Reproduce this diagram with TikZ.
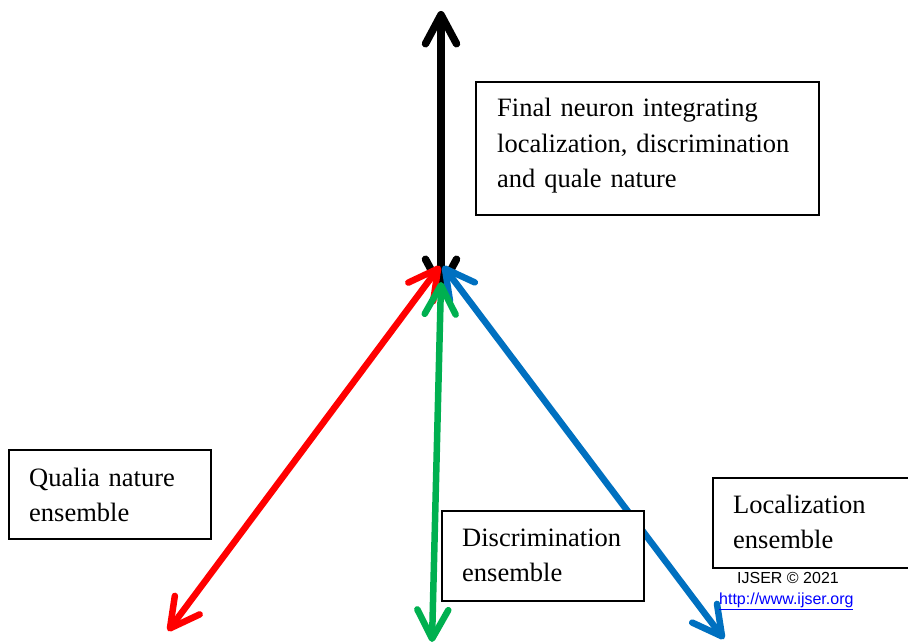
\documentclass[tikz,border=0pt]{standalone}
\usepackage{fontspec}
\setmainfont{Liberation Serif}
\newfontfamily\arialfont{Liberation Sans}
\usetikzlibrary{arrows.meta}
\definecolor{aRed}{RGB}{255,0,0}
\definecolor{aGreen}{RGB}{0,176,80}
\definecolor{aBlue}{RGB}{0,112,192}
\definecolor{linkblue}{RGB}{0,0,255}
\tikzset{
  barbtip/.style={arrows={Straight Barb[length=29pt,width=31pt,round]-Straight Barb[length=29pt,width=31pt,round]}},
  conn/.style={barbtip, line width=6.5pt, line cap=round},
  labelbox/.style={draw=black, line width=1.2pt, fill=white},
  boxtext/.style={anchor=base west, inner sep=0pt, align=left, text width=#1,
    font=\fontsize{26.5}{35.5}\selectfont},
  smalltext/.style={anchor=base west, inner sep=0pt, font=\arialfont\fontsize{16}{18}\selectfont}
}
\begin{document}
\begin{tikzpicture}[x=1pt,y=-1pt]
\useasboundingbox (0,0) rectangle (908,644);
% coordinates
\coordinate (kbot) at (441,292);
\coordinate (ktop) at (441,11);
\coordinate (rtop) at (440,266);
\coordinate (rbot) at (168,631);
\coordinate (btop) at (443,266);
\coordinate (bbot) at (724,639);
\coordinate (gtop) at (441,282);
\coordinate (gbot) at (432,642);
% connectors
\draw[conn, line width=7.5pt, black] (kbot) -- (ktop);
\draw[conn, aRed] (rbot) -- (rtop);
\draw[conn, aBlue] (bbot) -- (btop);
\draw[conn, aGreen] (gbot) -- (gtop);
% boxes
\draw[labelbox] (476,82) rectangle (819,215);
\node[boxtext=330pt] (final) at (497,117) {Final neuron integrating\\localization, discrimination\\and quale nature};
\draw[labelbox] (9,450) rectangle (211,539);
\node[boxtext=180pt] (qualia) at (29,486) {Qualia nature\\ensemble};
\draw[labelbox] (442,511) rectangle (644,601);
\node[boxtext=180pt] (discr) at (462,546) {Discrimination\\ensemble};
\draw[labelbox] (713,478) rectangle (920,568);
\node[boxtext=180pt] (local) at (733,513) {Localization\\ensemble};
% watermark
\node[smalltext] (ijser) at (737,583) {IJSER © 2021};
\node[smalltext, text=linkblue] (url) at (719,604) {\underline{http://www.ijser.org}};
\end{tikzpicture}
\end{document}
